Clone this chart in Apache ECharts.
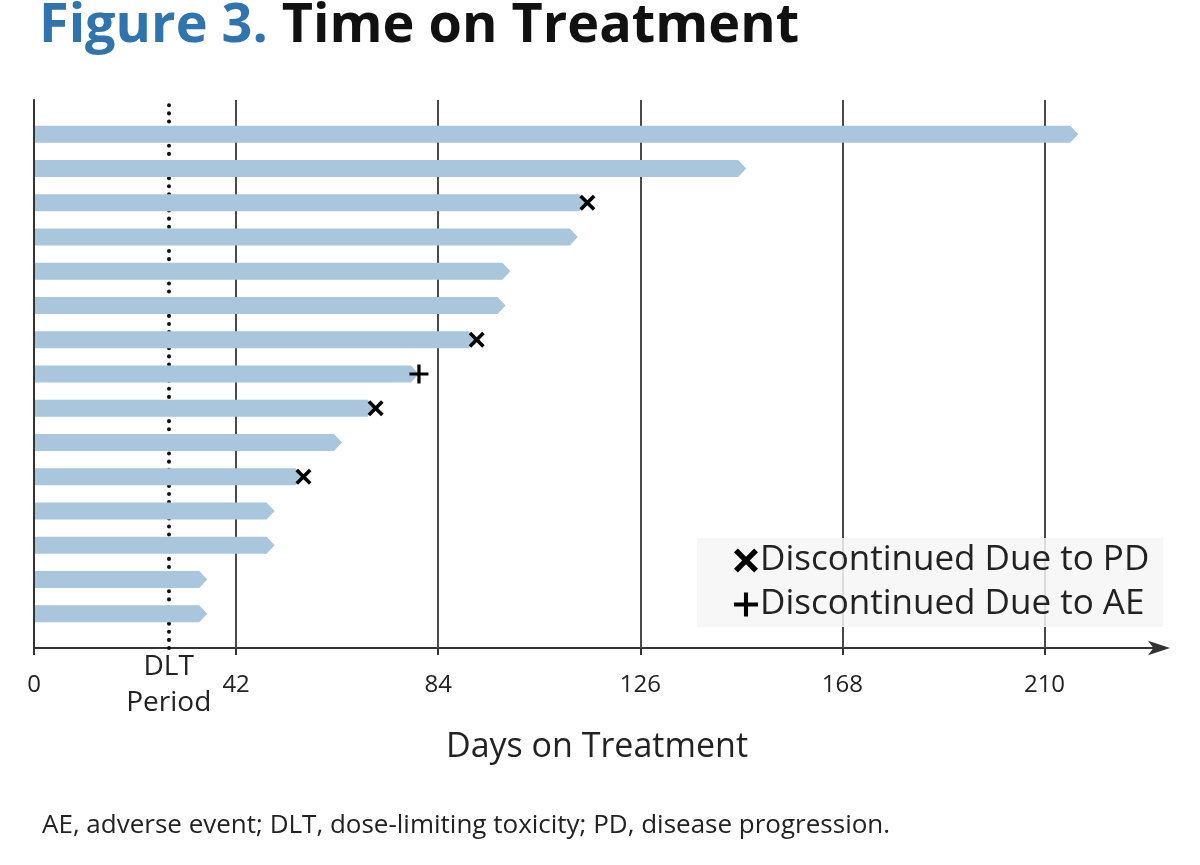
<!DOCTYPE html>
<html><head><meta charset="utf-8">
<script src="https://cdn.jsdelivr.net/npm/echarts@6/dist/echarts.min.js"></script>
<style>html,body{margin:0;padding:0;background:#fff}#c{width:1200px;height:865px}</style>
</head><body><div id="c"></div>
<script>
// ---- data ----
const patients = ['P1','P2','P3','P4','P5','P6','P7','P8','P9','P10','P11','P12','P13','P14','P15'];
const daysOnTreatment = [217, 148, 115, 113, 99, 98, 92, 80, 71, 64, 56, 50, 50, 36, 36];
const discontinuation = ['', '', 'PD', '', '', '', 'PD', 'AE', 'PD', '', 'PD', '', '', '', ''];
const xTicks = [0, 42, 84, 126, 168, 210];
const gridTicks = [42, 84, 126, 168, 210];
const dltPeriodDay = 28;
const xMax = 234;
const legendPD = 'Discontinued Due to PD';
const legendAE = 'Discontinued Due to AE';

// ---- styles ----
const FONT = '"Open Sans", "DejaVu Sans", sans-serif';
const barColor = '#a9c6dd';
const xPath = 'path://M0,16L16,0L50,34L84,0L100,16L66,50L100,84L84,100L50,66L16,100L0,84L34,50Z';
const plusPath = 'path://M41.5,0L58.5,0L58.5,41.5L100,41.5L100,58.5L58.5,58.5L58.5,100L41.5,100L41.5,58.5L0,58.5L0,41.5L41.5,41.5Z';

const n = patients.length;
const barData = daysOnTreatment.map((d, i) => [d, n - i, patients[i]]);
const pdData = [], aeData = [];
daysOnTreatment.forEach((d, i) => {
  if (discontinuation[i] === 'PD') pdData.push([d, n - i]);
  if (discontinuation[i] === 'AE') aeData.push([d, n - i]);
});

const chart = echarts.init(document.getElementById('c'), null, {renderer: 'canvas'});
chart.setOption({
  animation: false,
  backgroundColor: '#fff',
  title: {
    left: 34, top: -5,
    text: '{a|Figure 3.}{s| }{b|Time on Treatment}',
    textStyle: {
      rich: {
        a: {fontFamily: FONT, fontSize: 54, fontWeight: 'bold', color: '#2f74ad'},
        s: {fontFamily: FONT, fontSize: 54, width: 14},
        b: {fontFamily: FONT, fontSize: 54, fontWeight: 'bold', color: '#111'}
      }
    }
  },
  grid: {left: 34, right: 40, top: 100, bottom: 217, containLabel: false},
  xAxis: {
    type: 'value', min: 0, max: xMax,
    name: 'Days on Treatment', nameLocation: 'middle', nameGap: 82,
    nameTextStyle: {fontFamily: FONT, fontSize: 34, color: '#222'},
    axisLine: {show: true, symbol: ['none', 'arrow'], symbolSize: [11, 22], symbolOffset: [0, 10],
      lineStyle: {color: '#333', width: 2}},
    axisTick: {show: true, length: 7, customValues: xTicks, lineStyle: {color: '#333', width: 2}},
    axisLabel: {
      customValues: xTicks.concat([dltPeriodDay]),
      formatter: v => v === dltPeriodDay ? '{d|DLT}\n{d|Period}' : String(v),
      fontFamily: FONT, fontSize: 24, color: '#222',
      verticalAlign: 'middle', margin: 37,
      rich: {d: {fontFamily: FONT, fontSize: 28, color: '#222', lineHeight: 36}}
    },
    splitLine: {show: false}
  },
  yAxis: {
    type: 'value', min: 0, max: n + 1,
    axisLine: {show: true, lineStyle: {color: '#333', width: 2}},
    axisTick: {show: false}, axisLabel: {show: false}, splitLine: {show: false}
  },
  legend: {
    orient: 'vertical', left: 697, top: 538,
    padding: [5, 14, 5, 37],
    backgroundColor: 'rgba(246,246,246,0.85)',
    itemWidth: 26, itemHeight: 24, itemGap: 9,
    textStyle: {fontFamily: FONT, fontSize: 35, color: '#222', padding: [0, 0, 0, -4]},
    data: [{name: legendPD, icon: xPath}, {name: legendAE, icon: plusPath}]
  },
  series: [
    {
      type: 'line', data: [], z: 1, silent: true,
      markLine: {
        silent: true, symbol: 'none', animation: false, z: 1,
        label: {show: false},
        data: gridTicks.map(t => ({xAxis: t, lineStyle: {color: '#4a4a4a', width: 2, type: 'solid'}}))
          .concat([{xAxis: dltPeriodDay, lineStyle: {color: '#111', width: 4, type: [0.1, 8], cap: 'round'}}])
      }
    },
    {
      type: 'custom', z: 3, name: 'Time on treatment',
      data: barData,
      encode: {x: 0, y: 1},
      renderItem: (params, api) => {
        const a = api.coord([0, api.value(1)]);
        const b = api.coord([api.value(0), api.value(1)]);
        const h = 17, tip = 8, y = a[1];
        return {
          type: 'polygon',
          shape: {points: [[a[0] + 1, y - h / 2], [b[0] - tip, y - h / 2], [b[0], y], [b[0] - tip, y + h / 2], [a[0] + 1, y + h / 2]]},
          style: {fill: barColor}
        };
      }
    },
    {
      type: 'scatter', name: legendPD, z: 5, data: pdData,
      symbol: xPath, symbolSize: 16, itemStyle: {color: '#000', opacity: 1}
    },
    {
      type: 'scatter', name: legendAE, z: 5, data: aeData,
      symbol: plusPath, symbolSize: 19, itemStyle: {color: '#000', opacity: 1}
    }
  ],
  graphic: [{
    type: 'text', left: 42, top: 813,
    style: {text: 'AE, adverse event; DLT, dose-limiting toxicity; PD, disease progression.',
      font: '26px ' + FONT, fill: '#222'}
  }]
});
</script></body></html>
